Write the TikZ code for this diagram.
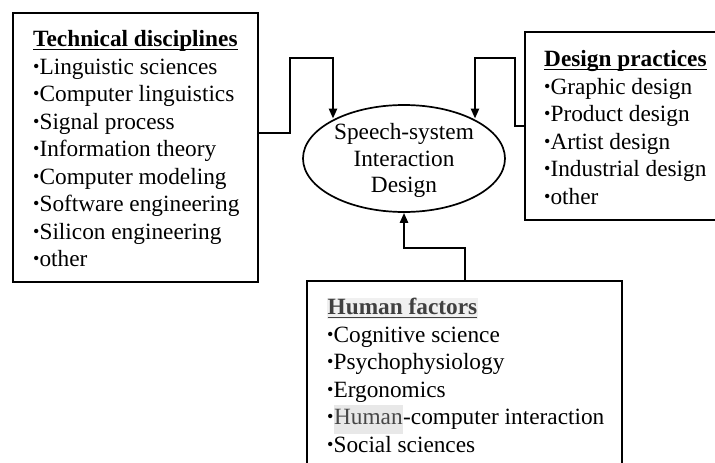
\documentclass[tikz,border=0pt]{standalone}
\usepackage{fontspec}
\setmainfont{Liberation Serif}
\usetikzlibrary{arrows.meta,shapes.geometric}

% small list bullet
\newcommand\bul{\raisebox{0.2ex}{\scalebox{0.78}{•}}}
% heading underline sitting just below the baseline
\newsavebox\hdbox
\newcommand\hd[1]{\sbox\hdbox{\bfseries #1}\rlap{\rule[-3.2pt]{\wd\hdbox}{1.3pt}}\usebox\hdbox}
% light grey marker behind a word
\newcommand\marked[1]{{\setlength\fboxsep{0.5pt}\colorbox{black!9}{\color{black!72}\strut #1}}}

\begin{document}
\begin{tikzpicture}[x=1pt,y=1pt,
  frame/.style={draw=black,line width=1.8pt},
  listtext/.style={anchor=north west,inner sep=0pt,align=left,
    font=\fontsize{23.3}{27.5}\selectfont},
  conn/.style={draw=black,line width=2.3pt,line join=miter,
    -{Triangle[length=10pt,width=8pt]}}]

\useasboundingbox (0,0) rectangle (715,-463);
\clip (0,0) rectangle (715,-463);
\fill[white] (0,0) rectangle (715,-463);

% boxes
\draw[frame] (13,-13) rectangle (258,-282);
\node[inner sep=0pt,minimum width=245pt,minimum height=269pt] (tech) at (135.5,-147.5) {};
\draw[frame] (525,-32) rectangle (740,-220);
\node[inner sep=0pt,minimum width=215pt,minimum height=188pt] (design) at (632.5,-126) {};
\draw[frame] (307,-281) rectangle (622,-490);
\node[inner sep=0pt,minimum width=315pt,minimum height=209pt] (human) at (464.5,-385.5) {};

% central oval
\node[draw=black,line width=1.7pt,ellipse,inner sep=0pt,
      minimum width=202pt,minimum height=107pt] (sis) at (404,-158.5) {};
\node[inner sep=0pt,anchor=north,align=center,
      font=\fontsize{23.3}{26.5}\selectfont] (sislabel) at (404,-121)
  {\strut Speech-system\\Interaction\\Design};

% list texts
\node[listtext] (techtext) at (33,-27.5)
  {\strut\hd{Technical disciplines}\\
   \bul Linguistic sciences\\
   \bul Computer linguistics\\
   \bul Signal process\\
   \bul Information theory\\
   \bul Computer modeling\\
   \bul Software engineering\\
   \bul Silicon engineering\\
   \bul other};

\node[listtext] (designtext) at (544,-47.5)
  {\strut\hd{Design practices}\\
   \bul Graphic design\\
   \bul Product design\\
   \bul Artist design\\
   \bul Industrial design\\
   \bul other};

\node[listtext] (humantext) at (327,-295.5)
  {\strut{\setlength\fboxsep{0.5pt}\colorbox{black!6}{\color{black!75}\hd{Human factors}}}\\
   \bul Cognitive science\\
   \bul Psychophysiology\\
   \bul Ergonomics\\
   \bul \marked{Human}-computer interaction\\
   \bul Social sciences};

% connectors into the oval
\coordinate (l1) at (290,-133);
\coordinate (l2) at (290,-58);
\coordinate (l3) at (333,-58);
\draw[conn] (tech.east |- l1) -- (l1) -- (l2) -- (l3) -- (l3 |- sis.150);

\coordinate (r1) at (515,-126);
\coordinate (r2) at (515,-58);
\coordinate (r3) at (475,-58);
\draw[conn] (design.west |- r1) -- (r1) -- (r2) -- (r3) -- (r3 |- sis.30);

\coordinate (b1) at (465,-248);
\coordinate (b2) at (404,-248);
\draw[conn] (human.north -| b1) -- (b1) -- (b2) -- (sis.south);
\end{tikzpicture}
\end{document}
